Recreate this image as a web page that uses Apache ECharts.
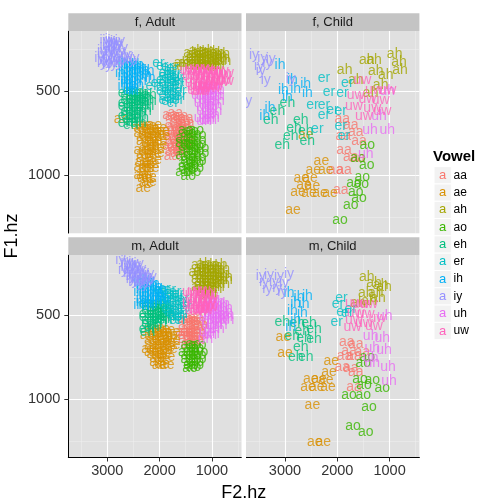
<!DOCTYPE html>
<html>
<head>
<meta charset="utf-8">
<title>F1 / F2 by vowel</title>
<script src="https://cdn.jsdelivr.net/npm/echarts@6/dist/echarts.min.js"></script>
<style>
  html, body { margin: 0; padding: 0; background: #fff; }
  #chart { width: 504px; height: 504px; }
</style>
</head>
<body>
<div id="chart"></div>
<script>
var vowels = ['aa', 'ae', 'ah', 'ao', 'eh', 'er', 'ih', 'iy', 'uh', 'uw'];
var colors = ['#F8766D', '#D89000', '#A3A500', '#39B600', '#00BF7D', '#00BFC4', '#00B0F6', '#9590FF', '#E76BF3', '#FF62BC'];
var panelNames = ['f, Adult', 'f, Child', 'm, Adult', 'm, Child'];
var xTicks = [1000, 2000, 3000];
var xMinor = [500, 1500, 2500, 3500];
var yTicks = [500, 1000];
var yMinor = [250, 750, 1250];

// points are [F2.hz, F1.hz], one list per vowel in the order of `vowels`
var fAdult = [
  [[1800,640],[1700,630],[1600,650],[1500,660],[1750,690],[1650,690],[1550,700],[1480,690],[1800,740],[1700,740],[1600,750],[1500,740],[1750,790],[1650,790],[1550,800],[1800,830],[1700,840],[1600,850],[1770,886],[1480,790],
   [1750,650],[1650,660],[1550,670],[1720,715],[1620,720],[1520,720],[1770,765],[1670,765],[1570,775],[1500,770],[1720,815],[1620,815],[1520,820],[1750,860],[1650,870],[1560,830]],
  [[2400,700],[2300,700],[2200,710],[2100,700],[2000,720],[2350,750],[2250,760],[2150,750],[2050,760],[1950,770],[2300,800],[2200,810],[2100,800],[2000,820],[2350,850],[2250,860],[2150,850],[2050,870],[2300,900],[2200,920],[2100,910],[2350,950],[2250,960],[2150,960],[2300,1000],[2200,1010],[2250,1050],[2310,1080],[2725,666],
   [2350,720],[2250,730],[2150,725],[2050,735],[1950,740],[2300,775],[2200,780],[2100,775],[2000,790],[2250,830],[2150,830],[2050,840],[2300,875],[2200,880],[2100,875],[2250,935],[2150,935],[2330,925],[2250,985],[2350,1000],[2200,1040],[2280,1020]],
  [[1400,270],[1300,260],[1200,265],[1100,258],[1000,262],[900,270],[800,275],[1350,300],[1250,295],[1150,300],[1050,290],[950,300],[850,310],[1300,330],[1200,335],[1100,330],[1000,340],[900,345],[1578,330],[1620,350],[780,320],
   [1350,275],[1250,272],[1150,278],[1050,270],[950,280],[850,290],[1400,315],[1300,310],[1200,315],[1100,310],[1000,318],[900,320],[800,300],[1500,330],[1350,345],[1250,350],[1150,345],[1050,350],[950,355]],
  [[1500,730],[1400,740],[1300,730],[1550,780],[1450,790],[1350,780],[1250,790],[1500,830],[1400,840],[1300,830],[1200,840],[1550,880],[1450,890],[1350,880],[1250,890],[1500,930],[1400,940],[1300,930],[1450,970],[1350,980],[1450,1004],[1550,980],
   [1450,750],[1350,755],[1250,760],[1550,810],[1450,815],[1350,810],[1250,815],[1500,860],[1400,865],[1300,860],[1200,870],[1450,910],[1350,910],[1250,915],[1400,960],[1300,960],[1500,955]],
  [[2650,510],[2550,500],[2450,505],[2350,510],[2600,550],[2500,545],[2400,550],[2300,540],[2650,590],[2550,600],[2450,590],[2350,580],[2200,560],[2600,640],[2500,650],[2400,640],[2200,520],[2300,620],[2550,700],[2650,690],[2400,690],
   [2600,520],[2500,525],[2400,525],[2300,525],[2650,570],[2550,575],[2450,570],[2350,560],[2250,545],[2600,615],[2500,620],[2400,615],[2300,600],[2550,670],[2450,665],[2350,660],[2250,590],[2650,650],[2500,685]],
  [[2020,330],[1900,390],[1800,380],[1700,395],[1950,430],[1850,420],[1750,430],[1650,420],[1950,470],[1850,480],[1750,470],[1650,460],[1900,520],[1800,510],[1700,520],[1600,500],[1850,560],[1750,570],[1650,550],[2050,450],[2150,470],
   [1950,350],[1850,355],[1750,360],[1900,410],[1800,405],[1700,410],[1620,440],[1900,450],[1800,450],[1700,445],[1950,500],[1850,500],[1750,495],[1650,485],[1800,540],[1700,545],[1600,530],[1900,550]],
  [[2700,330],[2600,340],[2500,345],[2650,370],[2550,380],[2450,375],[2350,360],[2700,410],[2600,420],[2500,410],[2400,400],[2300,390],[2650,450],[2550,460],[2450,450],[2350,440],[2200,380],[2180,420],[2600,490],[2500,500],
   [2650,345],[2550,355],[2450,355],[2400,340],[2750,390],[2600,395],[2500,385],[2400,380],[2300,370],[2650,430],[2550,435],[2450,425],[2350,415],[2250,410],[2700,470],[2600,470],[2500,475],[2400,465],[2550,490]],
  [[3050,200],[2950,190],[2850,205],[3000,230],[2900,240],[2800,225],[3100,260],[2950,270],[2850,280],[2750,260],[3150,300],[3050,310],[2700,300],[2600,290],[2480,300],[2950,320],[2800,330],[3000,340],[2900,215],[2760,200],
   [3000,200],[2900,200],[2800,210],[3050,245],[2950,250],[2850,250],[2700,240],[3100,285],[3000,285],[2900,290],[2800,290],[2650,280],[2550,310],[3000,320],[2850,310],[2750,320],[2900,335],[3100,330]],
  [[1200,470],[1100,480],[1000,470],[900,490],[1250,520],[1150,530],[1050,520],[950,530],[1200,570],[1100,580],[1000,570],[900,560],[1150,620],[1050,630],[950,620],[1200,660],[1100,670],[1000,660],
   [1150,490],[1050,495],[950,500],[1200,545],[1100,550],[1000,545],[900,530],[1150,595],[1050,600],[950,590],[1100,640],[1000,640],[1150,675],[1050,670]],
  [[1450,370],[1350,360],[1250,365],[1150,360],[1050,370],[950,375],[850,380],[750,390],[1400,410],[1300,400],[1200,410],[1100,400],[1000,415],[900,420],[800,430],[1350,450],[1250,460],[1150,450],[1050,460],[950,470],[1300,490],[1200,500],[750,440],
   [1400,380],[1300,380],[1200,385],[1100,380],[1000,390],[900,395],[800,405],[1350,425],[1250,430],[1150,425],[1050,435],[950,440],[850,445],[1300,470],[1200,475],[1100,470],[1000,480],[1250,495]]
];

var fChild = [
  [[1903,666],[1744,700],[1884,770],[1648,746],[1871,850],[1744,890],[1616,900],[2031,970],[1871,970],[1935,1090],[1585,800]],
  [[2604,760],[2304,914],[2457,970],[2222,970],[2687,1020],[2521,1020],[2636,1060],[2476,1066],[2750,1100],[2540,1106],[2330,1106],[2139,1106],[2846,1210]],
  [[1438,310],[1298,310],[903,276],[820,326],[801,374],[1859,370],[1266,380],[1075,400],[1648,430],[1171,460],[1362,510]],
  [[1425,820],[1604,900],[1438,940],[1521,1010],[1680,1050],[1540,1054],[1648,1100],[1585,1140],[1744,1180],[1948,1270]],
  [[2954,570],[3145,620],[3273,670],[2699,670],[2827,720],[2604,740],[2890,770],[2572,800],[3050,820]],
  [[2253,420],[2158,506],[1903,510],[1808,450],[2476,580],[2253,580],[2094,610],[2253,640],[1935,620],[2381,724],[1935,710],[1871,766]],
  [[3094,340],[2859,430],[2604,454],[3031,490],[2795,486],[2572,510],[2954,534],[3285,600],[3387,646]],
  [[3591,280],[3432,300],[3273,306],[3496,350],[3336,330],[3464,380],[3368,430],[2890,426],[3720,560]],
  [[1043,500],[1202,650],[1374,730],[1043,730],[1457,874]],
  [[1521,430],[1298,490],[1043,490],[1648,520],[1425,546],[1171,550],[1680,590],[1330,600],[1139,620],[1489,650]]
];

var mAdult = [
  [[1500,520],[1400,510],[1300,515],[1500,560],[1400,560],[1300,565],[1220,560],[1550,600],[1450,600],[1350,605],[1250,610],[1500,640],[1400,650],[1300,645],[1450,670],
   [1450,530],[1350,535],[1250,535],[1450,580],[1350,585],[1250,585],[1500,620],[1400,625],[1300,625],[1350,660],[1500,600]],
  [[2150,580],[2050,575],[1950,580],[1850,590],[1750,600],[2100,630],[2000,625],[1900,630],[1800,640],[2150,680],[2050,675],[1950,680],[1850,690],[1750,680],[2100,730],[2000,735],[1900,730],[2050,780],[1950,790],[1865,796],[2230,620],[2200,700],
   [2100,600],[2000,600],[1900,605],[1800,615],[2150,650],[2050,650],[1950,655],[1850,660],[1750,650],[2100,700],[2000,705],[1900,705],[1800,700],[2050,755],[1950,760],[1850,750],[2000,800],[2150,720]],
  [[1250,200],[1150,195],[1050,200],[950,205],[850,200],[1300,240],[1200,235],[1100,240],[1000,245],[900,240],[800,250],[1250,280],[1150,285],[1050,280],[950,285],[850,290],[750,290],[1200,320],[1100,325],[1000,320],[900,330],[1150,360],[1050,370],[1250,330],
   [1200,215],[1100,215],[1000,220],[900,220],[800,225],[1250,260],[1150,260],[1050,262],[950,262],[850,265],[750,270],[1200,300],[1100,302],[1000,300],[900,305],[800,310],[1150,340],[1050,345],[950,345],[1100,380]],
  [[1450,680],[1350,670],[1250,680],[1500,720],[1400,720],[1300,715],[1220,720],[1450,760],[1350,765],[1250,760],[1400,800],[1300,800],[1420,815],
   [1400,695],[1300,695],[1450,740],[1350,740],[1250,740],[1400,780],[1300,780],[1350,810]],
  [[2250,430],[2150,425],[2050,430],[1950,440],[2200,470],[2100,475],[2000,470],[1900,480],[2250,510],[2150,515],[2050,510],[1950,520],[1850,510],[2200,550],[2100,555],[2000,545],[2250,580],[2230,600],
   [2200,445],[2100,450],[2000,450],[1900,460],[2250,490],[2150,490],[2050,490],[1950,495],[1850,490],[2200,530],[2100,530],[2000,525],[1900,530],[2150,570]],
  [[2000,350],[1900,345],[1800,350],[1700,360],[1950,390],[1850,395],[1750,400],[1650,390],[1550,400],[1800,440],[1700,450],[1600,440],[1500,450],[1750,490],[1650,500],[1550,490],[1700,530],[1600,530],[1900,430],
   [1950,365],[1850,370],[1750,375],[1650,375],[1900,410],[1800,415],[1700,420],[1600,415],[1500,425],[1850,460],[1750,465],[1650,470],[1550,465],[1700,505],[1600,510],[1800,480]],
  [[2400,300],[2300,295],[2200,300],[2100,310],[2350,340],[2250,345],[2150,340],[2050,350],[1950,350],[2300,380],[2200,390],[2100,385],[2000,390],[2350,420],[2250,425],[2150,430],[2050,420],[2400,440],[1900,400],
   [2350,315],[2250,320],[2150,320],[2050,330],[2400,360],[2300,360],[2200,365],[2100,365],[2000,370],[2350,400],[2250,405],[2150,405],[2050,405],[1950,410],[2300,440],[2200,445]],
  [[2750,170],[2600,180],[2500,185],[2400,190],[2650,210],[2550,215],[2450,210],[2350,220],[2600,245],[2500,250],[2400,245],[2300,255],[2200,250],[2550,280],[2450,285],[2350,280],[2250,290],[2400,305],[2300,310],[2150,270],
   [2650,180],[2550,195],[2450,198],[2700,230],[2600,228],[2500,232],[2400,230],[2300,238],[2550,262],[2450,265],[2350,265],[2250,270],[2500,295],[2350,298],[2200,290]],
  [[1100,420],[1000,415],[900,420],[800,430],[1150,460],[1050,465],[950,460],[850,470],[750,480],[1100,510],[1000,505],[900,510],[800,520],[720,530],[1050,560],[950,555],[850,560],[1100,600],[1000,610],[1120,640],
   [1050,440],[950,440],[850,445],[750,455],[1100,485],[1000,485],[900,490],[800,495],[720,500],[1050,535],[950,530],[850,535],[750,510],[1000,580],[900,580],[1050,620]],
  [[1400,360],[1300,355],[1200,350],[1100,360],[1350,400],[1250,395],[1150,400],[1050,405],[1400,440],[1300,440],[1200,445],[1100,440],[1250,475],[1150,470],[1350,470],
   [1350,375],[1250,375],[1150,375],[1050,385],[1400,420],[1300,420],[1200,420],[1100,420],[1300,460],[1200,460],[1050,450]]
];

var mChild = [
  [[1820,661],[1648,671],[1776,711],[1859,745],[1680,745],[1521,721],[1903,810],[1744,816],[1648,840],[1680,929]],
  [[3031,632],[2999,725],[2113,772],[2158,840],[2508,879],[2349,879],[2222,889],[2559,929],[2394,929],[2177,929],[2476,1034],[2432,1259],[2266,1259]],
  [[1438,269],[1298,305],[1171,321],[1457,364],[1266,368],[1107,329],[1604,424],[1394,414],[1221,394]],
  [[1425,751],[1502,784],[1566,879],[1330,889],[1489,919],[1776,974],[1502,974],[1139,935],[1394,1051],[1699,1160],[1457,1196]],
  [[3050,539],[2763,547],[2540,543],[2668,592],[2445,582],[2859,622],[2636,638],[2445,642],[2699,691],[2795,750],[2604,750]],
  [[1922,394],[1986,434],[1903,479],[2011,539],[1808,483],[1744,463]],
  [[2922,368],[2731,388],[2572,384],[2795,424],[2636,434],[2859,473],[2668,483],[2795,527],[2890,572]],
  [[3464,265],[3305,261],[3113,265],[2922,255],[3400,301],[3209,301],[3018,305],[3336,341],[3145,335],[3050,360]],
  [[1362,626],[1139,638],[1330,697],[1107,705],[1362,756],[1330,784],[1030,810],[1011,895],[1094,503]],
  [[1680,424],[1553,434],[1394,434],[1648,483],[1457,493],[1234,513],[1680,527],[1489,543],[1712,572],[1298,566]]
];

var panelData = [fAdult, fChild, mAdult, mChild];

var FONT = '"Liberation Sans", Arial, Helvetica, sans-serif';
var xMin = 430, xMax = 3745, yMin = 138, yMax = 1350;
var pw = 173.4, ph = 202.5, stripH = 17.7;
var panelPos = [[68.3, 31], [246, 31], [68.3, 255], [246, 255]];

var grids = [], xAxes = [], yAxes = [], series = [], graphics = [];

function plain(v) { return String(v); }

panelPos.forEach(function (pos, p) {
  var bottom = p >= 2, left = p % 2 == 0;
  grids.push({
    left: pos[0], top: pos[1], width: pw, height: ph,
    show: true, backgroundColor: '#E0E0E0', borderWidth: 0
  });
  // minor grid lines first so the major ones sit over them
  xAxes.push({
    gridIndex: p, type: 'value', inverse: true, min: xMin, max: xMax,
    axisLine: {show: false}, axisTick: {show: false, customValues: xMinor},
    axisLabel: {show: false, customValues: xMinor},
    splitLine: {show: true, lineStyle: {color: '#F0F0F0', width: 0.5}}
  });
  xAxes.push({
    gridIndex: p, type: 'value', inverse: true, min: xMin, max: xMax, position: 'bottom',
    axisLine: {show: bottom, onZero: false, lineStyle: {color: '#000', width: 1}},
    axisTick: {show: bottom, length: 4, customValues: xTicks, lineStyle: {color: '#333'}},
    axisLabel: {show: bottom, customValues: xTicks, formatter: plain, color: '#333', fontSize: 14.5, fontFamily: FONT, margin: 6},
    splitLine: {show: true, lineStyle: {color: '#fff', width: 1.1}}
  });
  yAxes.push({
    gridIndex: p, type: 'value', inverse: true, min: yMin, max: yMax,
    axisLine: {show: false}, axisTick: {show: false, customValues: yMinor},
    axisLabel: {show: false, customValues: yMinor},
    splitLine: {show: true, lineStyle: {color: '#F0F0F0', width: 0.5}}
  });
  yAxes.push({
    gridIndex: p, type: 'value', inverse: true, min: yMin, max: yMax, position: 'left',
    axisLine: {show: left, onZero: false, lineStyle: {color: '#000', width: 1}},
    axisTick: {show: left, length: 4, customValues: yTicks, lineStyle: {color: '#333'}},
    axisLabel: {show: left, customValues: yTicks, formatter: plain, color: '#333', fontSize: 14.5, fontFamily: FONT, margin: 8},
    splitLine: {show: true, lineStyle: {color: '#fff', width: 1.1}}
  });

  vowels.forEach(function (v, i) {
    series.push({
      type: 'scatter', name: v,
      xAxisIndex: p * 2 + 1, yAxisIndex: p * 2 + 1,
      data: panelData[p][i],
      symbolSize: 1,
      itemStyle: {color: 'rgba(0,0,0,0)'},
      label: {show: true, position: 'inside', formatter: v, color: colors[i], fontSize: 14, fontFamily: FONT},
      emphasis: {disabled: true},
      silent: true
    });
  });

  // facet strip, drawn over the marks so overflowing labels get cut like in the panel
  graphics.push({
    type: 'rect', silent: true, z: 10,
    shape: {x: pos[0], y: pos[1] - stripH, width: pw, height: stripH},
    style: {fill: '#C4C4C4'}
  });
  graphics.push({
    type: 'text', silent: true, z: 11,
    x: pos[0] + pw / 2, y: pos[1] - stripH / 2,
    style: {text: panelNames[p], fill: '#1A1A1A', font: '13px ' + FONT, align: 'center', verticalAlign: 'middle'}
  });
});

// white gaps between panels hide text that spills over a panel edge
graphics.push({
  type: 'rect', silent: true, z: 10,
  shape: {x: 68.3 + pw, y: 13, width: 246 - 68.3 - pw, height: 445},
  style: {fill: '#fff'}
});
graphics.push({
  type: 'rect', silent: true, z: 9,
  shape: {x: 60, y: 31 + ph, width: 370, height: 255 - stripH - 31 - ph},
  style: {fill: '#fff'}
});

// axis titles
graphics.push({
  type: 'text', silent: true, x: 243.7, y: 493,
  style: {text: 'F2.hz', fill: '#000', font: '18px ' + FONT, align: 'center', verticalAlign: 'middle'}
});
graphics.push({
  type: 'text', silent: true, x: 12, y: 236, rotation: Math.PI / 2,
  style: {text: 'F1.hz', fill: '#000', font: '18px ' + FONT, align: 'center', verticalAlign: 'middle'}
});

// legend
graphics.push({
  type: 'text', silent: true, x: 433, y: 157,
  style: {text: 'Vowel', fill: '#000', font: 'bold 15px ' + FONT, align: 'left', verticalAlign: 'middle'}
});
vowels.forEach(function (v, i) {
  var cy = 175.3 + i * 17.3;
  graphics.push({
    type: 'rect', silent: true,
    shape: {x: 434, y: cy - 8.65, width: 17.3, height: 17.3},
    style: {fill: '#F2F2F2', stroke: '#fff', lineWidth: 1}
  });
  graphics.push({
    type: 'text', silent: true, x: 442.6, y: cy,
    style: {text: 'a', fill: colors[i], font: '13px ' + FONT, align: 'center', verticalAlign: 'middle'}
  });
  graphics.push({
    type: 'text', silent: true, x: 453.5, y: cy,
    style: {text: v, fill: '#000', font: '12px ' + FONT, align: 'left', verticalAlign: 'middle'}
  });
});

var chart = echarts.init(document.getElementById('chart'), null, {renderer: 'canvas'});
chart.setOption({
  animation: false,
  backgroundColor: '#fff',
  grid: grids,
  xAxis: xAxes,
  yAxis: yAxes,
  series: series,
  graphic: graphics
});
</script>
</body>
</html>
